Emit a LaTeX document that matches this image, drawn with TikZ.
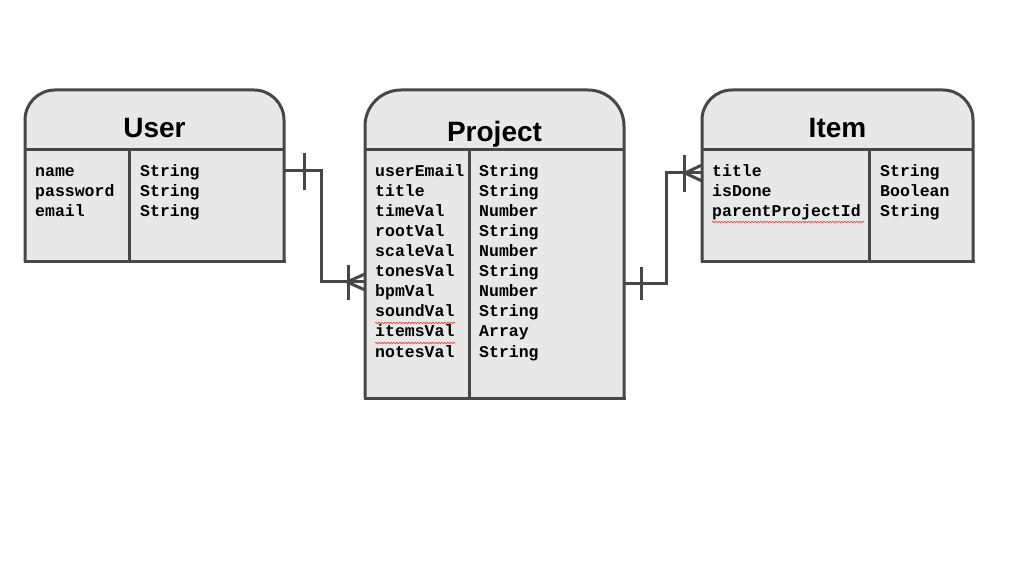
\documentclass[tikz,border=0pt]{standalone}
\usepackage{fontspec}
\setmainfont{Liberation Sans}
\newfontfamily\fieldfont{Liberation Mono}
\usetikzlibrary{decorations.pathmorphing}
\definecolor{edge}{HTML}{474747}
\definecolor{boxfill}{HTML}{E8E8E8}
\begin{document}
\begin{tikzpicture}[x=1pt,y=-1pt,
  boxline/.style={draw=edge, line width=3pt},
  conn/.style={draw=edge, line width=3pt},
  title/.style={font=\fontsize{28}{30}\selectfont\bfseries, inner sep=0pt, anchor=base},
  field/.style={font=\fieldfont\fontsize{16.5}{20}\selectfont\bfseries, inner sep=0pt, anchor=base west},
  spell/.style={draw=red!80!white, line width=0.6pt, decorate, decoration={snake, amplitude=0.8pt, segment length=3pt}}]
\useasboundingbox[fill=white] (0,0) rectangle (1015,569);

% ---------- User ----------
\path[boxline, fill=boxfill] (25,262) [rounded corners=30pt] -- (25,90) -- (284,90) -- (284,262);
\draw[boxline, line cap=rect] (25,262) -- (284,262);
\draw[boxline] (25,150) -- (284,150);
\draw[boxline] (129,150) -- (129,262);
\node[title] (usert) at (154.5,138) {User};
\node[field] (u1) at (35,177) {name};
\node[field] (u2) at (35,197) {password};
\node[field] (u3) at (35,217) {email};
\node[field] (u4) at (140,177) {String};
\node[field] (u5) at (140,197) {String};
\node[field] (u6) at (140,217) {String};

% ---------- Project ----------
\path[boxline, fill=boxfill] (365,398) [rounded corners=36pt] -- (365,90) -- (624,90) -- (624,398);
\draw[boxline, line cap=rect] (365,398) -- (624,398);
\draw[boxline] (365,150) -- (624,150);
\draw[boxline] (469,150) -- (469,398);
\node[title] (projt) at (494.5,142) {Project};
\foreach \n/\t [count=\i from 0] in {userEmail/String, title/String, timeVal/Number, rootVal/String, scaleVal/Number, tonesVal/String, bpmVal/Number, soundVal/String, itemsVal/Array, notesVal/String}{
  \node[field] (pn\i) at (375,{177+20*\i}) {\n};
  \node[field] (pt\i) at (479,{177+20*\i}) {\t};
}
\draw[spell] (375,323) -- (455,323);
\draw[spell] (375,343) -- (455,343);

% ---------- Item ----------
\path[boxline, fill=boxfill] (702,262) [rounded corners=30pt] -- (702,90) -- (973,90) -- (973,262);
\draw[boxline, line cap=rect] (702,262) -- (973,262);
\draw[boxline] (702,150) -- (973,150);
\draw[boxline] (869,150) -- (869,262);
\node[title] (itemt) at (837.5,138) {Item};
\node[field] (i1) at (712,177) {title};
\node[field] (i2) at (712,197) {isDone};
\node[field] (i3) at (712,217) {parentProjectId};
\node[field] (i4) at (880,177) {String};
\node[field] (i5) at (880,197) {Boolean};
\node[field] (i6) at (880,217) {String};
\draw[spell] (712,222) -- (864,222);

% ---------- Connectors ----------
\coordinate (uout) at (284,171);
\coordinate (pin) at (365,282);
\coordinate (pout) at (624,284);
\coordinate (iin) at (702,173);

\draw[conn] (uout) -- (321,171) -- (321,282) -- (pin);
\draw[conn] (304,153) -- (304,190);
\draw[conn] (348,265) -- (348,300);
\draw[conn] (347,282) -- (365,274);
\draw[conn] (347,282) -- (365,290);

\draw[conn] (pout) -- (666,284) -- (666,173) -- (iin);
\draw[conn] (641,267) -- (641,300);
\draw[conn] (684,155) -- (684,192);
\draw[conn] (685,173) -- (702,165);
\draw[conn] (685,173) -- (702,181);
\end{tikzpicture}
\end{document}
